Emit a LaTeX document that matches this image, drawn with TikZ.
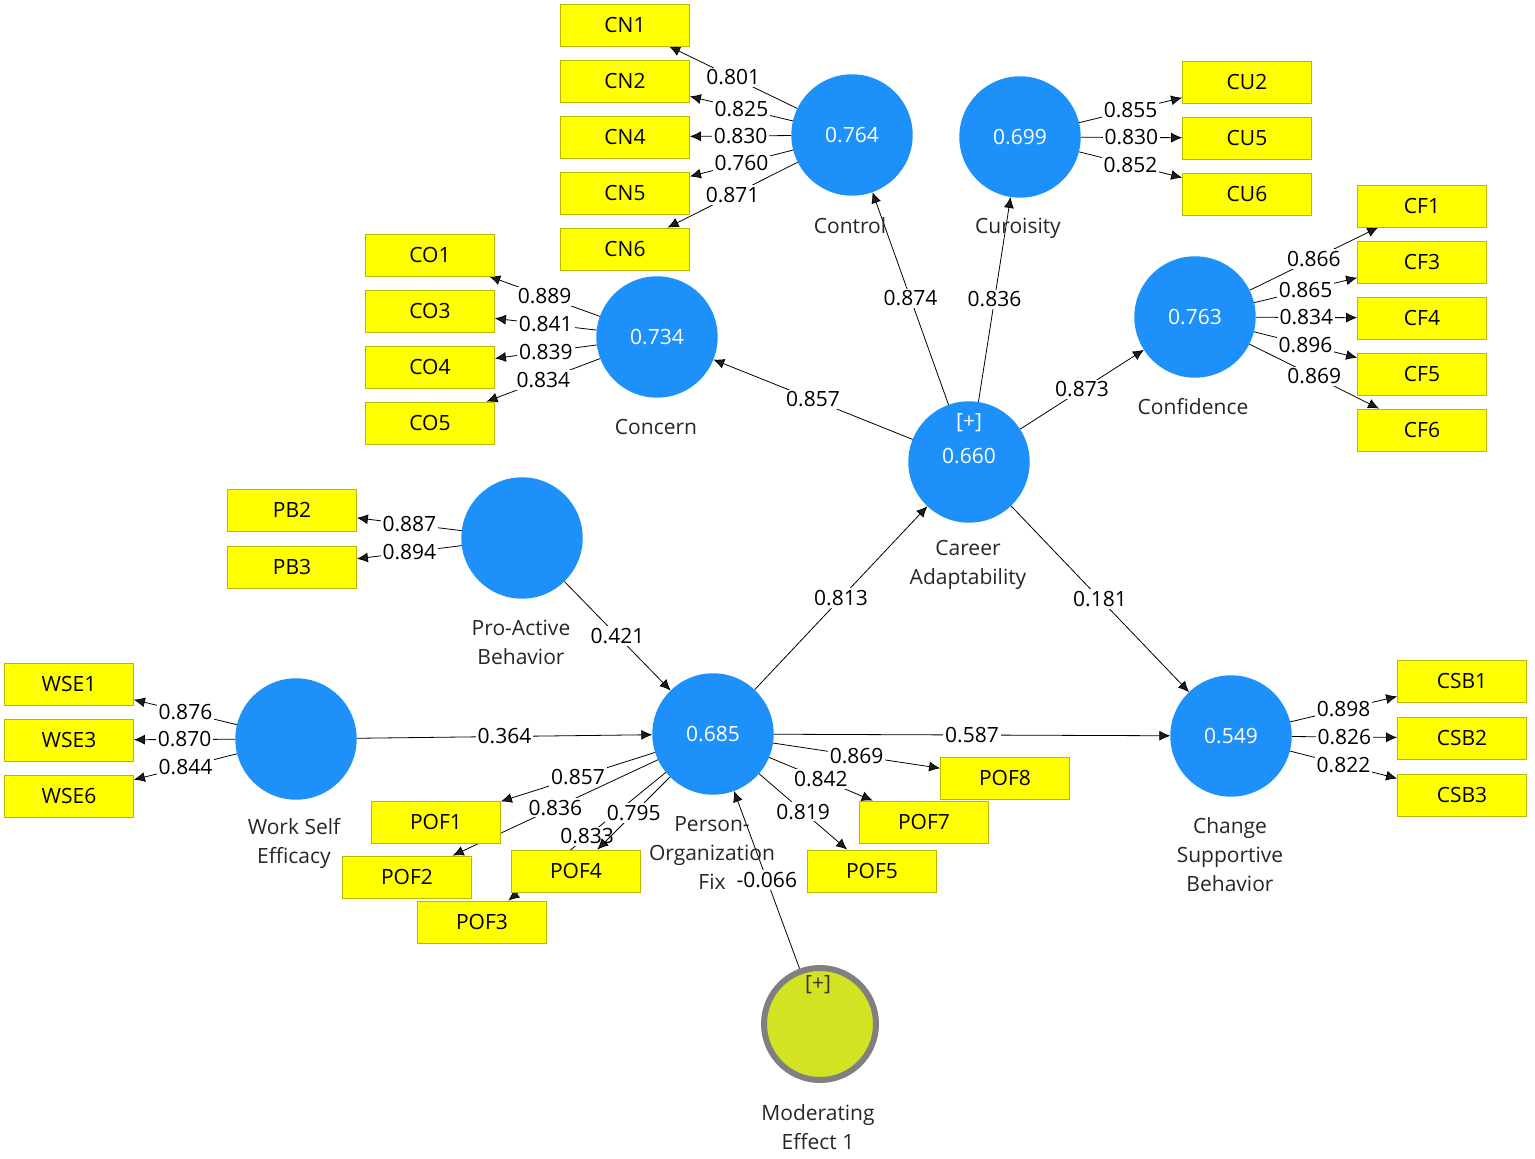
\documentclass[tikz,border=0pt]{standalone}
\usepackage{fontspec}
\setmainfont{Open Sans}
\usetikzlibrary{arrows.meta,backgrounds}
\definecolor{plsblue}{RGB}{30,144,250}
\definecolor{indyellow}{RGB}{255,255,0}
\definecolor{indborder}{RGB}{185,185,0}
\definecolor{modgreen}{RGB}{212,226,36}
\definecolor{modgray}{RGB}{128,128,128}
\definecolor{linegray}{RGB}{30,30,30}

\begin{document}
\begin{tikzpicture}[x=0.5pt, y=-0.5pt, -{Latex[length=5.5pt,width=5pt]}, line width=0.7pt, draw=linegray,
            font=\fontsize{10.5}{14.5}\selectfont,
            lv/.style ={circle, fill=plsblue, draw=plsblue, text=white, minimum size=60pt, inner sep=0pt},
            ind/.style ={rectangle, fill=indyellow, draw=indborder, thin, text=black, minimum width=64.5pt, minimum height=21pt, inner sep=0pt},
            ld/.style ={fill=white, inner sep=1pt, text=black},
            lvname/.style ={align=center, text=black!85}]
        \useasboundingbox (0,0) rectangle (1535,1159);

        % latent variables
        \node[lv] (ctl) at (852, 135) {0.764};
        \node[lv] (cur) at (1020, 137) {0.699};
        \node[lv] (con) at (657, 337) {0.734};
        \node[lv] (cnf) at (1195, 317) {0.763};
        \node[lv] (ca) at (969, 462) {};
        \node[text=white] (caplus) at (969, 423) {[+]};
        \node[text=white] (caval) at (969, 456) {0.660};
        \node[lv] (pab) at (522, 538) {};
        \node[lv] (wse) at (296, 739) {};
        \node[lv] (pof) at (713, 734) {0.685};
        \node[lv] (csb) at (1231, 736) {0.549};
        \node[circle, fill=modgreen, draw=modgray, line width=3pt, minimum size=56pt, inner sep=0pt] (mod) at (820, 1024) {};
        \node[text=black!80] (modplus) at (818, 985) {[+]};

        % names
        \node[lvname] (ctlname) at (850, 226) {Control};
        \node[lvname] (curname) at (1018, 228) {Curoisity};
        \node[lvname] (conname) at (656, 427) {Concern};
        \node[lvname] (cnfname) at (1193, 407) {Confidence};
        \node[lvname] (caname) at (968, 565) {Career\\Adaptability};
        \node[lvname] (pabname) at (521, 642) {Pro-Active\\Behavior};
        \node[lvname] (wsename) at (294, 843) {Work Self\\Efficacy};
        \node[lvname] (pofname) at (712, 853) {Person-\\Organization\\Fix};
        \node[lvname] (csbname) at (1230, 855) {Change\\Supportive\\Behavior};
        \node[lvname] (modname) at (818, 1127) {Moderating\\Effect 1};

        % indicators
        \node[ind] (CN1) at (625, 25) {CN1};
        \node[ind] (CN2) at (625, 81) {CN2};
        \node[ind] (CN4) at (625, 137) {CN4};
        \node[ind] (CN5) at (625, 193) {CN5};
        \node[ind] (CN6) at (625, 249) {CN6};
        \node[ind] (CU2) at (1247, 82) {CU2};
        \node[ind] (CU5) at (1247, 138) {CU5};
        \node[ind] (CU6) at (1247, 194) {CU6};
        \node[ind] (CO1) at (430, 255) {CO1};
        \node[ind] (CO3) at (430, 311) {CO3};
        \node[ind] (CO4) at (430, 367) {CO4};
        \node[ind] (CO5) at (430, 423) {CO5};
        \node[ind] (CF1) at (1422, 206) {CF1};
        \node[ind] (CF3) at (1422, 262) {CF3};
        \node[ind] (CF4) at (1422, 318) {CF4};
        \node[ind] (CF5) at (1422, 374) {CF5};
        \node[ind] (CF6) at (1422, 430) {CF6};
        \node[ind] (PB2) at (292, 510) {PB2};
        \node[ind] (PB3) at (292, 567) {PB3};
        \node[ind] (WSE1) at (69, 684) {WSE1};
        \node[ind] (WSE3) at (69, 740) {WSE3};
        \node[ind] (WSE6) at (69, 796) {WSE6};
        \node[ind] (CSB1) at (1462, 681) {CSB1};
        \node[ind] (CSB2) at (1462, 738) {CSB2};
        \node[ind] (CSB3) at (1462, 795) {CSB3};
        \node[ind] (POF1) at (436, 822) {POF1};
        \node[ind] (POF2) at (407, 877) {POF2};
        \node[ind] (POF4) at (576, 871) {POF4};
        \node[ind] (POF3) at (482, 922) {POF3};
        \node[ind] (POF8) at (1005, 778) {POF8};
        \node[ind] (POF7) at (924, 822) {POF7};
        \node[ind] (POF5) at (872, 871) {POF5};

        \begin{pgfonlayer}{background}
        % outer loadings
        \path (ctl) edge node[ld] {0.801} (CN1);
        \path (ctl) edge node[ld] {0.825} (CN2);
        \path (ctl) edge node[ld] {0.830} (CN4);
        \path (ctl) edge node[ld] {0.760} (CN5);
        \path (ctl) edge node[ld] {0.871} (CN6);
        \path (cur) edge node[ld] {0.855} (CU2);
        \path (cur) edge node[ld] {0.830} (CU5);
        \path (cur) edge node[ld] {0.852} (CU6);
        \path (con) edge node[ld] {0.889} (CO1);
        \path (con) edge node[ld] {0.841} (CO3);
        \path (con) edge node[ld] {0.839} (CO4);
        \path (con) edge node[ld] {0.834} (CO5);
        \path (cnf) edge node[ld] {0.866} (CF1);
        \path (cnf) edge node[ld] {0.865} (CF3);
        \path (cnf) edge node[ld] {0.834} (CF4);
        \path (cnf) edge node[ld] {0.896} (CF5);
        \path (cnf) edge node[ld] {0.869} (CF6);
        \path (pab) edge node[ld] {0.887} (PB2);
        \path (pab) edge node[ld] {0.894} (PB3);
        \path (wse) edge node[ld] {0.876} (WSE1);
        \path (wse) edge node[ld] {0.870} (WSE3);
        \path (wse) edge node[ld] {0.844} (WSE6);
        \path (csb) edge node[ld] {0.898} (CSB1);
        \path (csb) edge node[ld] {0.826} (CSB2);
        \path (csb) edge node[ld] {0.822} (CSB3);
        \path (pof) edge node[ld] {0.857} (POF1);
        \path (pof) edge node[ld] {0.836} (POF2);
        \path (pof) edge node[ld] {0.833} (POF3);
        \path (pof) edge node[ld] {0.795} (POF4);
        \path (pof) edge node[ld] {0.819} (POF5);
        \path (pof) edge node[ld] {0.842} (POF7);
        \path (pof) edge node[ld] {0.869} (POF8);

        % inner model
        \path (ca) edge node[ld] {0.874} (ctl);
        \path (ca) edge node[ld] {0.836} (cur);
        \path (ca) edge node[ld] {0.857} (con);
        \path (ca) edge node[ld] {0.873} (cnf);
        \path (ca) edge node[ld] {0.181} (csb);
        \path (pof) edge node[ld] {0.813} (ca);
        \path (pof) edge node[ld] {0.587} (csb);
        \path (pab) edge node[ld] {0.421} (pof);
        \path (wse) edge node[ld] {0.364} (pof);
        \path (mod) edge node[ld] {-0.066} (pof);
        \end{pgfonlayer}
    \end{tikzpicture}
\end{document}
